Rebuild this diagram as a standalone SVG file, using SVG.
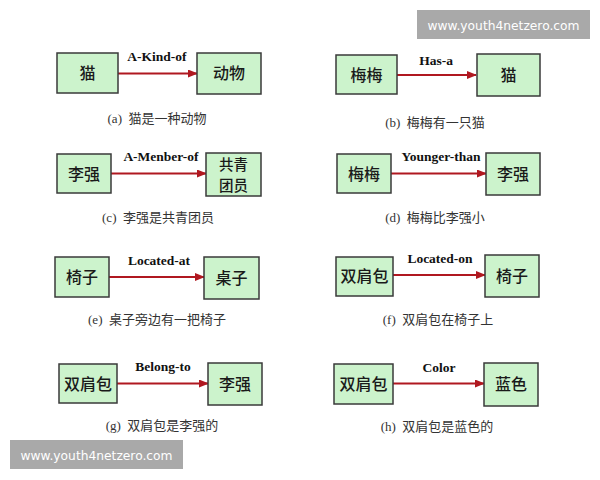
<svg xmlns="http://www.w3.org/2000/svg" width="600" height="480" viewBox="0 0 600 480">
<defs>
<marker id="ah" markerWidth="10" markerHeight="8" refX="9" refY="4" orient="auto" markerUnits="userSpaceOnUse">
<path d="M0,0 L10,4 L0,8 Z" fill="#b01820"/>
</marker>
<style>
.box{fill:#ccf3cc;stroke:#3a3a3a;stroke-width:1.5}
.nt{font-family:"Noto Sans CJK SC","Noto Sans",sans-serif;font-size:16px;font-weight:500;fill:#1a1a1a;text-anchor:middle}
.nt2{font-size:14.5px}
.lb{font-family:"Liberation Serif","Noto Sans CJK SC",serif;font-size:13.5px;font-weight:bold;fill:#111;text-anchor:middle}
.cp{font-family:"Liberation Serif","Noto Sans CJK SC",serif;font-size:13px;fill:#333;text-anchor:middle}
.ln{stroke:#b01820;stroke-width:2;fill:none;marker-end:url(#ah)}
.wm{fill:#a9a9a9}
.wt{font-family:"DejaVu Sans","Liberation Sans",sans-serif;font-size:13px;fill:#fff;text-anchor:middle}
</style>
</defs>
<rect width="600" height="480" fill="#fff"/>

<g id="connectors">
<line class="ln" x1="118" y1="73.5" x2="197" y2="73.5"/>
<line class="ln" x1="397" y1="75" x2="476" y2="75"/>
<line class="ln" x1="111" y1="173.5" x2="206" y2="173.5"/>
<line class="ln" x1="391" y1="173.5" x2="486" y2="173.5"/>
<line class="ln" x1="109" y1="277" x2="204" y2="277"/>
<line class="ln" x1="393" y1="275" x2="485" y2="275"/>
<line class="ln" x1="117" y1="383.5" x2="208" y2="383.5"/>
<line class="ln" x1="393" y1="383.5" x2="484" y2="383.5"/>
</g>

<g id="labels">
<text class="lb" x="157" y="61">A-Kind-of</text>
<text class="lb" x="436" y="65">Has-a</text>
<text class="lb" x="161" y="161">A-Menber-of</text>
<text class="lb" x="441" y="161">Younger-than</text>
<text class="lb" x="159" y="265">Located-at</text>
<text class="lb" x="440" y="263">Located-on</text>
<text class="lb" x="163" y="371">Belong-to</text>
<text class="lb" x="439" y="372">Color</text>
</g>

<g id="a-src"><rect class="box" x="57" y="53" width="61" height="40"/><text class="nt" x="87.5" y="79">猫</text></g>
<g id="a-dst"><rect class="box" x="197" y="53" width="64" height="41"/><text class="nt" x="229" y="79">动物</text></g>
<text class="cp" x="157" y="123" xml:space="preserve">(a)  猫是一种动物</text>

<g id="b-src"><rect class="box" x="336" y="55" width="61" height="39"/><text class="nt" x="366.5" y="80.5">梅梅</text></g>
<g id="b-dst"><rect class="box" x="477" y="54" width="63" height="42"/><text class="nt" x="508.5" y="80.5">猫</text></g>
<text class="cp" x="435" y="127" xml:space="preserve">(b)  梅梅有一只猫</text>

<g id="c-src"><rect class="box" x="57" y="154" width="54" height="39"/><text class="nt" x="84" y="179.5">李强</text></g>
<g id="c-dst"><rect class="box" x="206" y="153" width="55" height="43"/><text class="nt nt2" x="233.5" y="170">共青</text><text class="nt nt2" x="233.5" y="191">团员</text></g>
<text class="cp" x="158" y="222" xml:space="preserve">(c)  李强是共青团员</text>

<g id="d-src"><rect class="box" x="337" y="154" width="54" height="39"/><text class="nt" x="364" y="179.5">梅梅</text></g>
<g id="d-dst"><rect class="box" x="486" y="153" width="54" height="42"/><text class="nt" x="513" y="179.5">李强</text></g>
<text class="cp" x="435" y="222" xml:space="preserve">(d)  梅梅比李强小</text>

<g id="e-src"><rect class="box" x="55" y="257" width="54" height="40"/><text class="nt" x="82" y="283">椅子</text></g>
<g id="e-dst"><rect class="box" x="204" y="257" width="55" height="42"/><text class="nt" x="231.5" y="283.5">桌子</text></g>
<text class="cp" x="157" y="324" xml:space="preserve">(e)  桌子旁边有一把椅子</text>

<g id="f-src"><rect class="box" x="336" y="257" width="57" height="39"/><text class="nt" x="364.5" y="282">双肩包</text></g>
<g id="f-dst"><rect class="box" x="485" y="255" width="54" height="42"/><text class="nt" x="512" y="281.5">椅子</text></g>
<text class="cp" x="438" y="324" xml:space="preserve">(f)  双肩包在椅子上</text>

<g id="g-src"><rect class="box" x="59" y="364" width="58" height="39"/><text class="nt" x="88" y="389.5">双肩包</text></g>
<g id="g-dst"><rect class="box" x="208" y="363" width="54" height="42"/><text class="nt" x="235" y="389.5">李强</text></g>
<text class="cp" x="162" y="430" xml:space="preserve">(g)  双肩包是李强的</text>

<g id="h-src"><rect class="box" x="334" y="364" width="59" height="40"/><text class="nt" x="363.5" y="390">双肩包</text></g>
<g id="h-dst"><rect class="box" x="484" y="363" width="54" height="43"/><text class="nt" x="511" y="390">蓝色</text></g>
<text class="cp" x="437" y="431" xml:space="preserve">(h)  双肩包是蓝色的</text>

<g id="watermarks">
<rect class="wm" x="417" y="10" width="173" height="29"/>
<text class="wt" x="503.5" y="29.5" textLength="152" lengthAdjust="spacingAndGlyphs">www.youth4netzero.com</text>
<rect class="wm" x="10" y="440" width="173" height="29"/>
<text class="wt" x="96.5" y="459.5" textLength="152" lengthAdjust="spacingAndGlyphs">www.youth4netzero.com</text>
</g>
</svg>
